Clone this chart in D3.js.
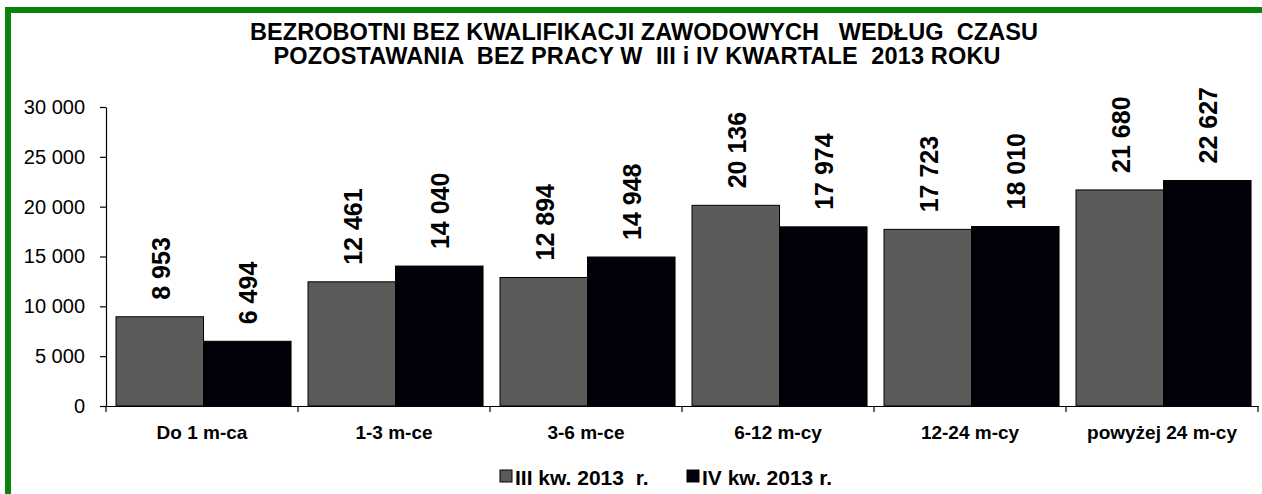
<!DOCTYPE html>
<meta charset="utf-8">
<script src="https://cdn.jsdelivr.net/npm/d3@7"></script>
<style>
	body{margin:0;background:#fff;font-family:"Liberation Sans",Arial,sans-serif;}
	text{white-space:pre;}
</style>
<div id="chart"></div>
<script>
var titleLines = ["BEZROBOTNI BEZ KWALIFIKACJI ZAWODOWYCH   WEDŁUG  CZASU",
	"POZOSTAWANIA  BEZ PRACY W  III i IV KWARTALE  2013 ROKU"]
var categories = ["Do 1 m-ca","1-3 m-ce","3-6 m-ce","6-12 m-cy","12-24 m-cy","powyżej 24 m-cy"]
var seriesNames = ["III kw. 2013  r.","IV kw. 2013 r."]
var q3 = [8953,12461,12894,20136,17723,21680]
var q4 = [6494,14040,14948,17974,18010,22627]
var yTicks = [0,5000,10000,15000,20000,25000,30000]
var colors = ["#5a5a5a","#01010a"]

var width = 1262
var height = 494
var m = {left:106, right:4, top:107, bottom:88}

var loc = d3.formatLocale({decimal:",",thousands:" ",grouping:[3],currency:["",""]})
var fmt = loc.format(",d")

var svg = d3.select("#chart").append("svg")
	.attr("width",width)
	.attr("height",height)

// green frame (only top and left are visible in the picture)
svg.append("rect")
	.attr("x",8).attr("y",10)
	.attr("width",width+20).attr("height",height+20)
	.attr("fill","none")
	.attr("stroke","#0a820a")
	.attr("stroke-width",6)

// title
svg.append("g").selectAll("text")
	.data(titleLines)
	.enter()
	.append("text")
	.attr("x",function(d,i){return i==0?644:637})
	.attr("y",function(d,i){return 40+i*23.5})
	.attr("text-anchor","middle")
	.attr("font-weight","bold")
	.attr("font-size","23.5px")
	.attr("textLength",function(d,i){return i==0?788:727})
	.attr("lengthAdjust","spacing")
	.text(function(d){return d})

var x0 = d3.scaleBand().domain(categories).range([m.left,width-m.right]).padding(0)
var x1 = d3.scaleBand().domain([0,1]).range([0,x0.bandwidth()]).paddingInner(0).paddingOuter(0.097).align(0.59)
var yScale = d3.scaleLinear().domain([0,30000]).range([height-m.bottom,m.top])

var yAxis = d3.axisLeft(yScale).tickValues(yTicks).tickFormat(fmt).tickSize(6).tickSizeOuter(0).tickPadding(15)
var gy = svg.append("g").attr("transform","translate("+m.left+",0)").call(yAxis)
gy.selectAll("text").attr("font-size","20px").attr("font-family","Liberation Sans, Arial, sans-serif").attr("fill","#000")
gy.selectAll("line,path").attr("stroke","#000").attr("stroke-width",1.2)

var series = [q3,q4]
var groups = svg.append("g").selectAll("g")
	.data(categories)
	.enter()
	.append("g")
	.attr("transform",function(d){return "translate("+x0(d)+",0)"})

groups.selectAll("rect")
	.data(function(d,i){return series.map(function(s,k){return {k:k,v:s[i]}})})
	.enter()
	.append("rect")
	.attr("x",function(d){return x1(d.k)})
	.attr("width",x1.bandwidth())
	.attr("y",function(d){return yScale(d.v)})
	.attr("height",function(d){return yScale(0)-yScale(d.v)})
	.attr("fill",function(d){return colors[d.k]})
	.attr("stroke","#000")
	.attr("stroke-width",1)

groups.selectAll("text.val")
	.data(function(d,i){return series.map(function(s,k){return {k:k,v:s[i]}})})
	.enter()
	.append("text")
	.attr("class","val")
	.attr("transform",function(d){
		return "translate("+(x1(d.k)+x1.bandwidth()/2+1)+","+(yScale(d.v)-17)+") rotate(-90)"})
	.attr("dy","0.36em")
	.attr("font-size","25px")
	.attr("font-weight","bold")
	.text(function(d){return fmt(d.v)})

// x axis: domain line, ticks on category boundaries, labels centered
var xAxis = d3.axisBottom(x0).tickSize(0).tickSizeOuter(0).tickPadding(19.5)
var gx = svg.append("g").attr("transform","translate(0,"+yScale(0)+")").call(xAxis)
gx.select(".domain").attr("stroke","#000").attr("stroke-width",1.2)
gx.selectAll("text").attr("font-size","19px").attr("font-weight","bold").attr("font-family","Liberation Sans, Arial, sans-serif").attr("fill","#000")
var bounds = categories.map(function(c){return x0(c)}).concat([x0.range()[1]])
gx.selectAll("line.bt")
	.data(bounds)
	.enter()
	.append("line")
	.attr("class","bt")
	.attr("x1",function(d){return d}).attr("x2",function(d){return d})
	.attr("y1",0).attr("y2",6)
	.attr("stroke","#000").attr("stroke-width",1.2)

// legend
var legendX = [500,687]
var lg = svg.append("g").selectAll("g")
	.data(seriesNames)
	.enter()
	.append("g")
	.attr("transform",function(d,i){return "translate("+legendX[i]+",470)"})
lg.append("rect")
	.attr("width",12).attr("height",12)
	.attr("fill",function(d,i){return colors[i]})
	.attr("stroke","#000").attr("stroke-width",1)
lg.append("text")
	.attr("x",15).attr("y",15)
	.attr("font-size","21px")
	.attr("font-weight","bold")
	.text(function(d){return d})
</script>
